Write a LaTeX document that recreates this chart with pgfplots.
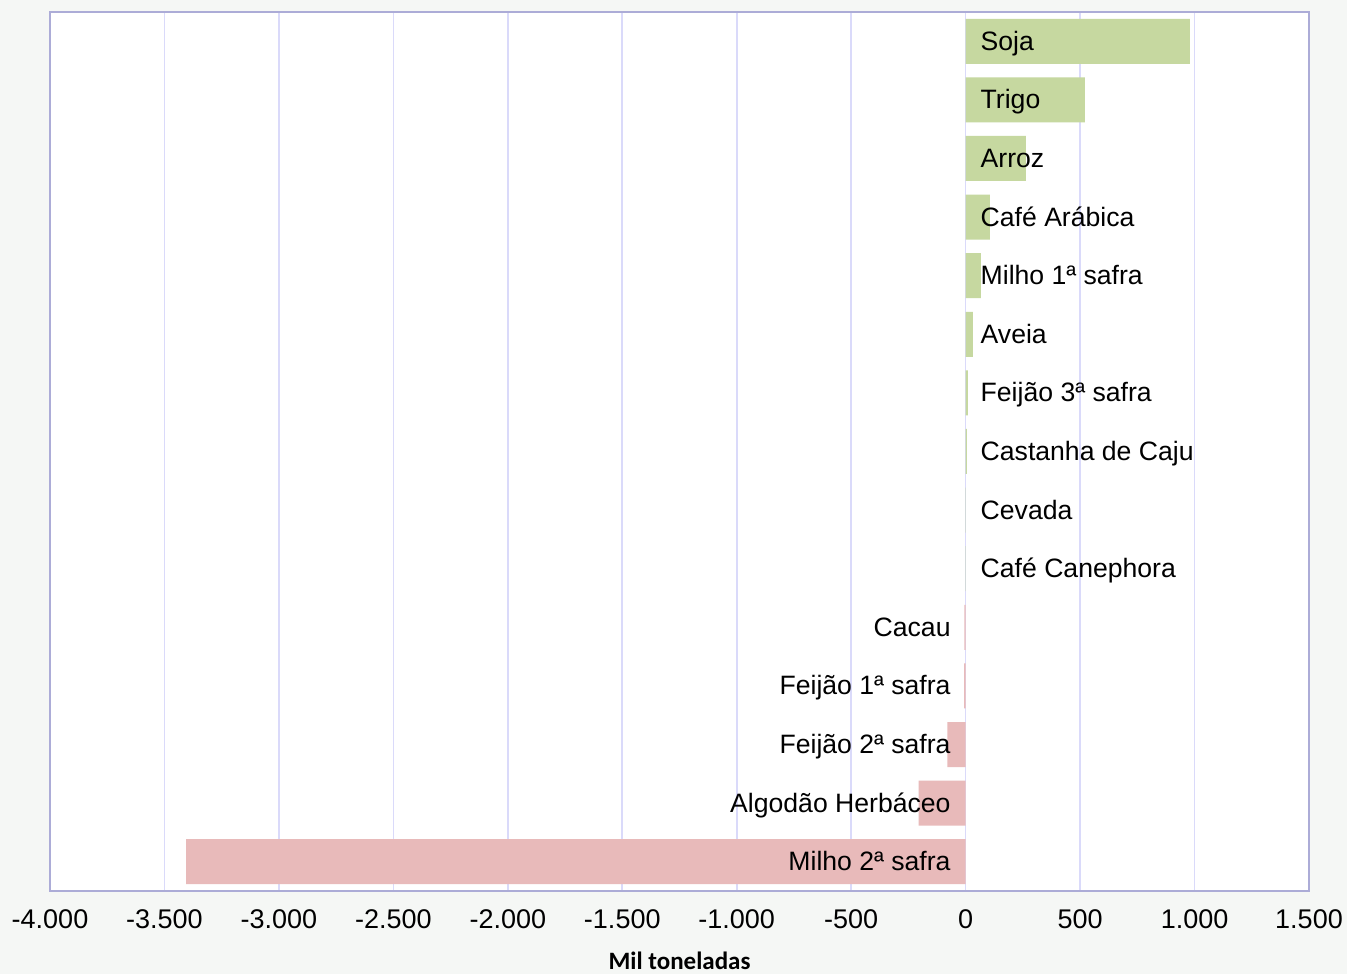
\documentclass[border=0pt]{standalone}
\usepackage{pgfplots}
\pgfplotsset{compat=1.18}
\usepackage{pgfplotstable}
\usepackage{fontspec}
\setmainfont{Liberation Sans}
\newfontfamily\carlito{Carlito}
\definecolor{bg}{RGB}{245,247,245}
\definecolor{axisc}{RGB}{172,172,215}
\definecolor{gridc}{RGB}{218,218,250}
\definecolor{posc}{RGB}{198,216,160}
\definecolor{negc}{RGB}{232,186,186}

\pgfplotstableread[col sep=comma]{
y,v,label
14,980,Soja
13,521,Trigo
12,263,Arroz
11,106,Café Arábica
10,67,Milho 1ª safra
9,32,Aveia
8,10,Feijão 3ª safra
7,5,Castanha de Caju
6,1,Cevada
5,0.5,Café Canephora
}\pos

\pgfplotstableread[col sep=comma]{
y,v,label
4,-5,Cacau
3,-7,Feijão 1ª safra
2,-80,Feijão 2ª safra
1,-205,Algodão Herbáceo
0,-3405,Milho 2ª safra
}\neg

\begin{document}
\begin{tikzpicture}
\fill[bg] (-25pt,-41.5pt) rectangle (648.5pt,445.5pt);
\begin{axis}[
  scale only axis, width=629.5pt, height=439.5pt,
  xmin=-4000, xmax=1500, ymin=-0.5, ymax=14.5,
  xtick={-4000,-3500,...,1500},
  xticklabels={-4.000,-3.500,-3.000,-2.500,-2.000,-1.500,-1.000,-500,0,500,1.000,1.500},
  ytick=\empty,
  xmajorgrids, grid style={gridc, line width=0.8pt},
  axis line style={axisc, line width=0.8pt},
  major tick length=0pt,
  xticklabel style={font=\fontsize{13.5}{15}\selectfont, text=black, yshift=-6pt},
  xlabel={Mil toneladas},
  xlabel style={font=\carlito\bfseries\fontsize{12.5}{14}\selectfont, at={(rel axis cs:0.5,0)}, anchor=center, yshift=-35pt},
  axis background/.style={fill=white},
]
\addplot[xbar, bar width=22.5pt, bar shift=0pt, fill=posc, draw=none] table[x=v, y=y]{\pos};
\addplot[xbar, bar width=22.5pt, bar shift=0pt, fill=negc, draw=none] table[x=v, y=y]{\neg};
\addplot[draw=none, mark=none, nodes near coords, point meta=explicit symbolic,
  nodes near coords style={anchor=west, xshift=4pt, yshift=-1pt, text height=9.5pt, text depth=2.5pt, font=\fontsize{13.3}{15}\selectfont, text=black}]
  table[x expr=0, y=y, meta=label]{\pos};
\addplot[draw=none, mark=none, nodes near coords, point meta=explicit symbolic,
  nodes near coords style={anchor=east, xshift=-4pt, yshift=-1pt, text height=9.5pt, text depth=2.5pt, font=\fontsize{13.3}{15}\selectfont, text=black}]
  table[x expr=0, y=y, meta=label]{\neg};
\end{axis}
\pgfresetboundingbox
\useasboundingbox (-25pt,-41.5pt) rectangle (648.5pt,445.5pt);
\end{tikzpicture}
\end{document}
